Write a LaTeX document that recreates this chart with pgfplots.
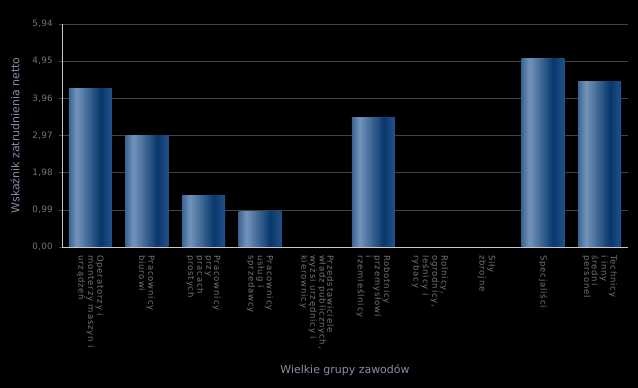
\documentclass[border=0pt]{standalone}
\usepackage{fontspec}
\setmainfont{DejaVu Sans}
\newfontfamily\xtickfont{DejaVu Sans}[LetterSpace=10]
\newfontfamily\ytickfont{DejaVu Sans}[LetterSpace=3]
\usepackage{pgfplots}
\pgfplotsset{compat=1.18}
\definecolor{gridc}{HTML}{424242}
\definecolor{axisc}{HTML}{C8C8C8}
\definecolor{tickc}{HTML}{767676}
\definecolor{labc}{HTML}{8A8AAA}
\definecolor{bA}{HTML}{3A6594}
\definecolor{bB}{HTML}{7394BA}
\definecolor{bC}{HTML}{08376C}
\definecolor{bD}{HTML}{23508A}
\pgfdeclarehorizontalshading{barshade}{100bp}{color(0bp)=(bA); color(25bp)=(bA); color(34bp)=(bB); color(62bp)=(bC); color(75bp)=(bD); color(100bp)=(bD)}
\begin{document}
\begin{tikzpicture}
\fill[black] (0,0) rectangle (638bp,388bp);
\begin{axis}[
  at={(62bp,141bp)}, anchor=south west,
  scale only axis, width=566bp, height=223bp,
  xmin=-0.5, xmax=9.5, ymin=0, ymax=5.94,
  axis lines*=left,
  axis line style={draw=axisc, line width=0.8bp},
  ytick={0,0.99,1.98,2.97,3.96,4.95,5.94},
  yticklabels={{0,00},{0,99},{1,98},{2,97},{3,96},{4,95},{5,94}},
  xtick={0,1,2,3,4,5,6,7,8,9},
  xticklabels={
    {Operatorzy i\\monterzy maszyn i\\urządzeń},
    {Pracownicy\\biurowi},
    {Pracownicy\\przy\\pracach\\prostych},
    {Pracownicy\\usług i\\sprzedawcy},
    {Przedstawiciele\\władz publicznych,\\wyżsi urzędnicy i\\kierownicy},
    {Robotnicy\\przemysłowi\\i\\rzemieślnicy},
    {Rolnicy,\\ogrodnicy,\\leśnicy i\\rybacy},
    {Siły\\zbrojne},
    {Specjaliści},
    {Technicy\\i inny\\średni\\personel}},
  ymajorgrids,
  grid style={draw=gridc, line width=0.6bp},
  tick align=outside,
  major tick length=3bp,
  xtick style={draw=none},
  ytick style={draw=gridc, line width=0.6bp},
  yticklabel style={font=\ytickfont\fontsize{8.8}{9}\selectfont, text=tickc, inner xsep=6bp},
  xticklabel style={rotate=-90, anchor=west, align=left, font=\xtickfont\fontsize{8.5}{7.8}\selectfont, text=tickc, inner xsep=5bp},
  xlabel={Wielkie grupy zawodów},
  ylabel={Wskaźnik zatrudnienia netto},
  label style={font=\fontsize{11}{13}\selectfont, text=labc},
  xlabel style={at={(axis description cs:0.5,0)}, anchor=center, yshift=-123bp},
  ylabel style={at={(axis description cs:0,0.5)}, anchor=center, yshift=47bp},
  barsty/.style={ybar, bar width=43bp, bar shift=0pt, draw=none, shading=barshade},
]
\addplot[barsty] coordinates {(0,4.21)};
\addplot[barsty] coordinates {(1,2.96)};
\addplot[barsty] coordinates {(2,1.37)};
\addplot[barsty] coordinates {(3,0.95)};
\addplot[barsty] coordinates {(5,3.46)};
\addplot[barsty] coordinates {(8,5.01)};
\addplot[barsty] coordinates {(9,4.40)};
\end{axis}
\end{tikzpicture}
\end{document}
